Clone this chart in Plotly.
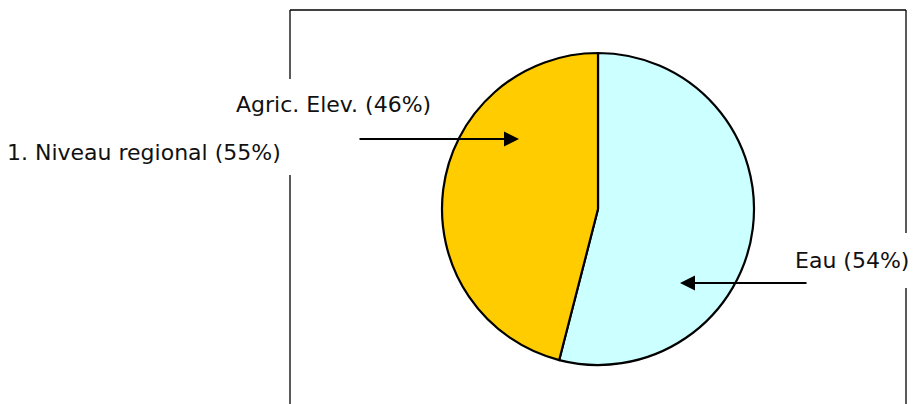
import plotly.graph_objects as go

W, H = 913, 404

labels = ["Eau", "Agric. Elev."]
values = [54, 46]
colors = ["#CCFFFF", "#FFCC00"]
label_texts = ["Eau (54%)", "Agric. Elev. (46%)"]
title_text = "1. Niveau regional (55%)"

def px(x):
    return x / W

def py(y):
    return 1 - y / H

cx, cy, r = 598, 209, 156

fig = go.Figure()
fig.add_trace(go.Pie(
    labels=labels, values=values, sort=False, direction="clockwise", rotation=0,
    marker=dict(colors=colors, line=dict(color="black", width=2.2)),
    textinfo="none", hoverinfo="label+percent", showlegend=False,
    domain=dict(x=[px(cx - r), px(cx + r)], y=[py(cy + r), py(cy - r)]),
))

# Box frame (broken where labels are)
line = dict(color="black", width=1.3)
segs = [
    (290, 10, 906, 10),
    (290, 10, 290, 79),
    (290, 175, 290, 404),
    (906, 10, 906, 233),
    (906, 288, 906, 404),
]
for x0, y0, x1, y1 in segs:
    fig.add_shape(type="line", xref="paper", yref="paper",
                  x0=px(x0), y0=py(y0), x1=px(x1), y1=py(y1), line=line)

font = dict(family="DejaVu Sans, Verdana, sans-serif", size=22, color="#111111")
ann = [
    dict(text=label_texts[1], x=px(433), y=py(104), xanchor="right", yanchor="middle"),
    dict(text=title_text, x=px(283), y=py(152), xanchor="right", yanchor="middle"),
    dict(text=label_texts[0], x=px(911), y=py(260), xanchor="right", yanchor="middle"),
]
for a in ann:
    fig.add_annotation(xref="paper", yref="paper", showarrow=False, font=font, **a)

# Arrows
fig.add_annotation(xref="paper", yref="paper", x=px(519), y=py(139), ax=358 - 519, ay=0,
                   text="", showarrow=True, arrowhead=2, arrowsize=1.5, arrowwidth=2, arrowcolor="black")
fig.add_annotation(xref="paper", yref="paper", x=px(680), y=py(283), ax=808 - 680, ay=0,
                   text="", showarrow=True, arrowhead=2, arrowsize=1.5, arrowwidth=2, arrowcolor="black")

fig.update_layout(width=W, height=H, margin=dict(l=0, r=0, t=0, b=0),
                  paper_bgcolor="white", plot_bgcolor="white")
fig.write_html("out.html", config={"displayModeBar": False},
               post_script="document.body.style.margin='0';document.body.style.overflow='hidden';")
